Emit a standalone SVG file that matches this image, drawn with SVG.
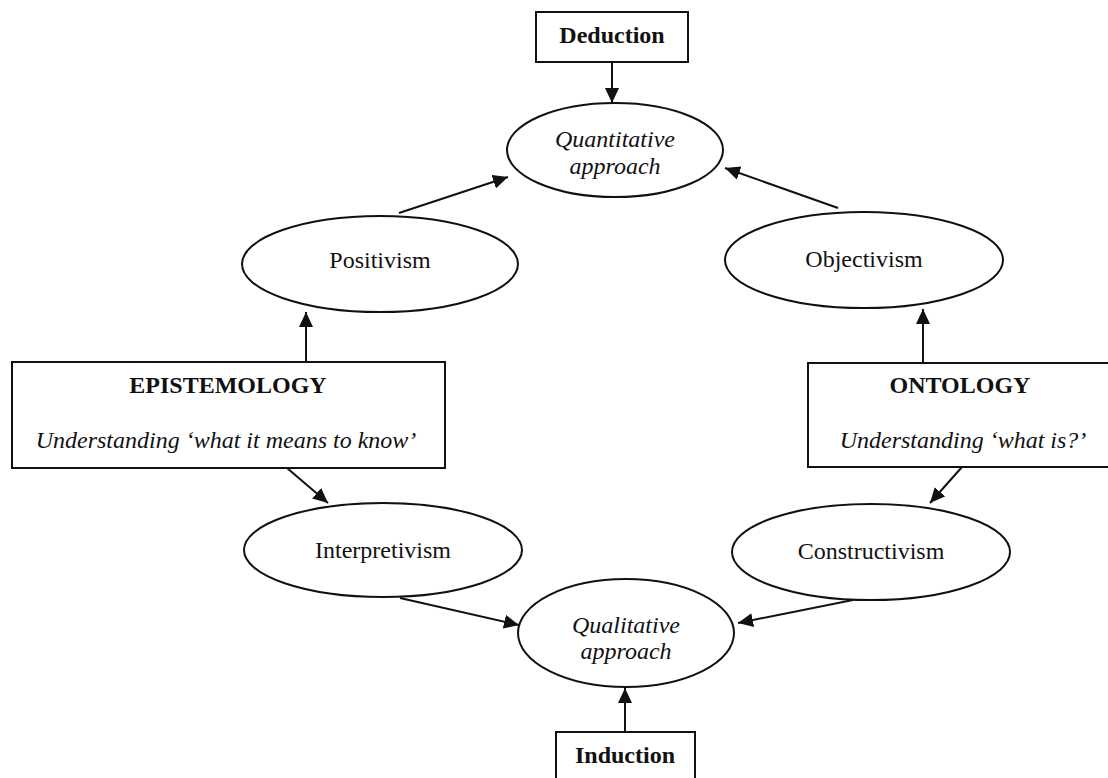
<svg xmlns="http://www.w3.org/2000/svg" width="1108" height="778" viewBox="0 0 1108 778">
  <style>
    .shape { fill: #fff; stroke: #111; stroke-width: 2; }
    .edge { fill: none; stroke: #111; stroke-width: 2; }
    text { font-family: "Liberation Serif", "Times New Roman", serif; font-size: 24px; fill: #111; text-anchor: middle; }
    .b { font-weight: bold; }
    .i { font-style: italic; }
  </style>
  <defs>
    <marker id="arrow" markerUnits="userSpaceOnUse" markerWidth="16" markerHeight="14" refX="15" refY="7" orient="auto">
      <path d="M0,0 L15,7 L0,14 Z" fill="#111"/>
    </marker>
  </defs>
  <rect width="1108" height="778" fill="#fff"/>

  <g id="connectors">
    <line class="edge" x1="612" y1="62" x2="612" y2="103" marker-end="url(#arrow)"/>
    <line class="edge" x1="399" y1="213" x2="508" y2="177" marker-end="url(#arrow)"/>
    <line class="edge" x1="838" y1="208" x2="725" y2="168" marker-end="url(#arrow)"/>
    <line class="edge" x1="306" y1="362" x2="306" y2="312" marker-end="url(#arrow)"/>
    <line class="edge" x1="923" y1="363" x2="923" y2="309" marker-end="url(#arrow)"/>
    <line class="edge" x1="287" y1="468" x2="328" y2="503" marker-end="url(#arrow)"/>
    <line class="edge" x1="962" y1="467" x2="930" y2="503" marker-end="url(#arrow)"/>
    <line class="edge" x1="400" y1="598" x2="519" y2="625" marker-end="url(#arrow)"/>
    <line class="edge" x1="853" y1="600" x2="738" y2="623" marker-end="url(#arrow)"/>
    <line class="edge" x1="625" y1="732" x2="625" y2="688" marker-end="url(#arrow)"/>
  </g>

  <g id="deduction">
    <rect class="shape" x="536" y="12" width="152" height="50"/>
    <text class="b" x="612" y="43">Deduction</text>
  </g>

  <g id="quantitative">
    <ellipse class="shape" cx="615" cy="150" rx="108" ry="47"/>
    <text class="i" x="615" y="147">Quantitative</text>
    <text class="i" x="615" y="174">approach</text>
  </g>

  <g id="positivism">
    <ellipse class="shape" cx="380" cy="264" rx="138" ry="48"/>
    <text x="380" y="268">Positivism</text>
  </g>

  <g id="objectivism">
    <ellipse class="shape" cx="864" cy="260" rx="139" ry="48"/>
    <text x="864" y="267">Objectivism</text>
  </g>

  <g id="epistemology">
    <rect class="shape" x="12" y="362" width="433" height="106"/>
    <text class="b" x="228" y="393">EPISTEMOLOGY</text>
    <text class="i" x="226" y="448">Understanding ‘what it means to know’</text>
  </g>

  <g id="ontology">
    <rect class="shape" x="808" y="363" width="306" height="104"/>
    <text class="b" x="960" y="393">ONTOLOGY</text>
    <text class="i" x="963" y="448">Understanding ‘what is?’</text>
  </g>

  <g id="interpretivism">
    <ellipse class="shape" cx="383" cy="550" rx="139" ry="47"/>
    <text x="383" y="558">Interpretivism</text>
  </g>

  <g id="constructivism">
    <ellipse class="shape" cx="871" cy="552" rx="139" ry="48"/>
    <text x="871" y="559">Constructivism</text>
  </g>

  <g id="qualitative">
    <ellipse class="shape" cx="626" cy="633" rx="108" ry="54"/>
    <text class="i" x="626" y="633">Qualitative</text>
    <text class="i" x="626" y="659">approach</text>
  </g>

  <g id="induction">
    <rect class="shape" x="556" y="732" width="139" height="56"/>
    <text class="b" x="625" y="763">Induction</text>
  </g>
</svg>
